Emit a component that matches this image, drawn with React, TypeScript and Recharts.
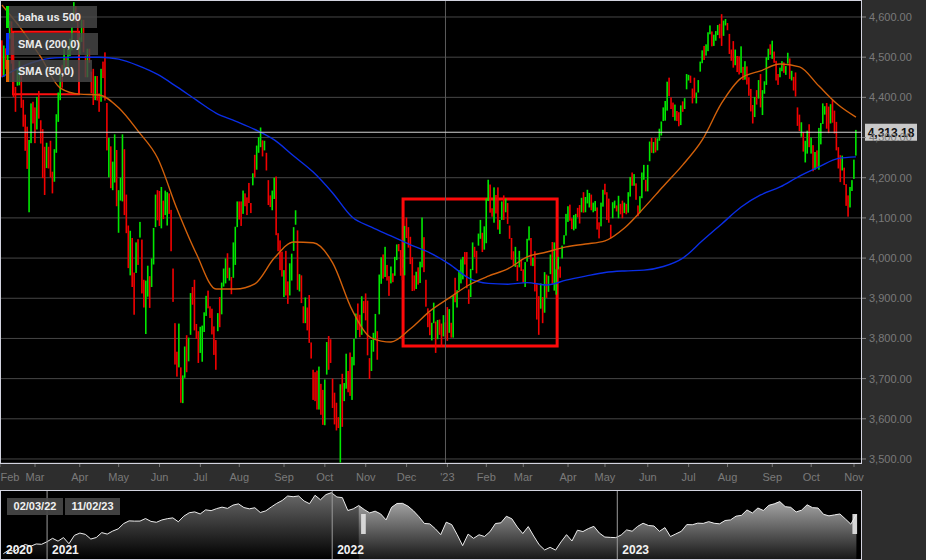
import React from 'react';
import {
  ComposedChart, Bar, Line, Area, XAxis, YAxis, CartesianGrid, ReferenceLine, ReferenceArea,
} from 'recharts';

const FONT = '"Liberation Sans", Arial, sans-serif';
const NARROW = '"Liberation Sans Narrow", "Arial Narrow", "Liberation Sans", sans-serif';

// ---- daily bars, 03 Feb 2022 .. 02 Nov 2023 (trading-day index) ----
const lows = [
  // Feb 22
  4450, 4451, 4470, 4465, 4546, 4484, 4401, 4364, 4429, 4430, 4374, 4327, 4267, 4222, 4114, 4286, 4335,
  // Mar 22
  4286, 4320, 4347, 4285, 4199, 4157, 4224, 4223, 4201, 4161, 4190, 4262, 4339, 4393, 4424, 4467, 4455, 4470, 4503, 4517, 4589, 4587, 4530,
  // Apr 22
  4507, 4538, 4512, 4450, 4450, 4486, 4410, 4381, 4393, 4392, 4364, 4389, 4448, 4392, 4268, 4201, 4174, 4169, 4188, 4129,
  // May 22
  4063, 4143, 4141, 4107, 4062, 3975, 3957, 3928, 3859, 3963, 3983, 4051, 3912, 3877, 3811, 3904, 3876, 3928, 3984, 4077, 4094,
  // Jun 22
  4080, 4074, 4097, 4107, 4081, 4110, 4017, 3891, 3735, 3705, 3728, 3640, 3639, 3702, 3716, 3743, 3809, 3884, 3820, 3799, 3739,
  // Jul 22
  3764, 3742, 3816, 3856, 3875, 3851, 3810, 3759, 3722, 3818, 3828, 3860, 3929, 3937, 3950, 3944, 3910, 3951, 3983, 4077,
  // Aug 22
  4096, 4080, 4110, 4129, 4107, 4137, 4112, 4181, 4201, 4220, 4262, 4276, 4253, 4268, 4218, 4132, 4127, 4119, 4147, 4057, 4017, 3970, 3954,
  // Sep 22
  3903, 3907, 3886, 3907, 3944, 4018, 4083, 3921, 3917, 3888, 3838, 3838, 3820, 3789, 3750, 3647, 3644, 3623, 3623, 3610, 3585,
  // Oct 22
  3584, 3710, 3722, 3739, 3627, 3586, 3571, 3577, 3491, 3580, 3644, 3675, 3666, 3657, 3647, 3733, 3800, 3821, 3803, 3809, 3863,
  // Nov 22
  3845, 3758, 3699, 3719, 3767, 3796, 3747, 3860, 3936, 3949, 3953, 3944, 3906, 3937, 3940, 3956, 3995, 4017, 3956, 3945, 3957,
  // Dec 22
  4050, 4026, 3985, 3918, 3919, 3923, 3934, 3938, 3977, 3965, 3879, 3828, 3808, 3795, 3838, 3764, 3798, 3809, 3780, 3805, 3800,
  // Jan 23
  3794, 3814, 3802, 3802, 3890, 3877, 3920, 3937, 3947, 3984, 3925, 3886, 3903, 3970, 4002, 3962, 4031, 4048, 4015, 4021,
  // Feb 23
  4037, 4142, 4113, 4103, 4088, 4111, 4071, 4060, 4095, 4095, 4114, 4085, 4048, 3996, 3983, 3978, 3943, 3977, 3968,
  // Mar 23
  3939, 3928, 3991, 4044, 3981, 3980, 3917, 3847, 3809, 3874, 3838, 3864, 3901, 3916, 3960, 3936, 3919, 3909, 3972, 3951, 3999, 4034, 4056,
  // Apr 23
  4090, 4093, 4072, 4069, 4073, 4102, 4086, 4114, 4113, 4114, 4136, 4126, 4119, 4114, 4117, 4071, 4049, 4079, 4128,
  // May 23
  4158, 4095, 4088, 4049, 4099, 4124, 4116, 4099, 4109, 4099, 4112, 4109, 4113, 4153, 4180, 4180, 4145, 4104, 4113, 4149, 4195, 4166,
  // Jun 23
  4166, 4241, 4262, 4261, 4263, 4268, 4292, 4305, 4341, 4342, 4367, 4403, 4371, 4351, 4342, 4341, 4328, 4331, 4364, 4371, 4420,
  // Jul 23
  4442, 4436, 4385, 4398, 4385, 4412, 4464, 4485, 4493, 4504, 4515, 4557, 4527, 4528, 4541, 4555, 4547, 4528, 4553, 4579,
  // Aug 23
  4567, 4508, 4491, 4474, 4480, 4463, 4457, 4461, 4443, 4444, 4432, 4404, 4365, 4335, 4351, 4382, 4397, 4375, 4356, 4409, 4431, 4493, 4506,
  // Sep 23
  4496, 4486, 4442, 4431, 4450, 4465, 4461, 4456, 4484, 4446, 4442, 4417, 4402, 4329, 4316, 4302, 4265, 4238, 4260, 4276,
  // Oct 23
  4260, 4216, 4220, 4226, 4220, 4283, 4334, 4357, 4322, 4311, 4335, 4337, 4310, 4268, 4223, 4189, 4218, 4182, 4130, 4103, 4126, 4167,
  // Nov 23
  4197, 4255,
];

const highs = [
  // Feb 22
  4542, 4529, 4522, 4531, 4590, 4589, 4527, 4426, 4472, 4490, 4456, 4394, 4357, 4327, 4294, 4385, 4389,
  // Mar 22
  4375, 4401, 4416, 4343, 4321, 4277, 4287, 4277, 4292, 4215, 4271, 4358, 4412, 4465, 4481, 4522, 4501, 4520, 4546, 4575, 4637, 4627, 4603,
  // Apr 22
  4549, 4593, 4593, 4504, 4521, 4521, 4464, 4471, 4453, 4453, 4410, 4471, 4489, 4512, 4386, 4299, 4278, 4240, 4308, 4269,
  // May 22
  4169, 4200, 4308, 4271, 4158, 4081, 4068, 4050, 3964, 4039, 4047, 4090, 4046, 3946, 3944, 3981, 3955, 3999, 4075, 4158, 4169,
  // Jun 22
  4167, 4177, 4143, 4168, 4164, 4161, 4120, 3974, 3838, 3767, 3837, 3728, 3708, 3780, 3808, 3802, 3913, 3928, 3946, 3836, 3818,
  // Jul 22
  3829, 3832, 3865, 3906, 3919, 3880, 3874, 3830, 3796, 3863, 3903, 3939, 3974, 3999, 4012, 3976, 3953, 4039, 4078, 4141,
  // Aug 22
  4141, 4141, 4168, 4161, 4151, 4187, 4137, 4211, 4257, 4280, 4301, 4325, 4293, 4292, 4262, 4194, 4156, 4168, 4200, 4203, 4062, 4044, 4016,
  // Sep 22
  3970, 4018, 3942, 3987, 4011, 4077, 4119, 4069, 3960, 3957, 3880, 3902, 3877, 3908, 3790, 3722, 3716, 3720, 3730, 3687, 3672,
  // Oct 22
  3698, 3791, 3806, 3798, 3700, 3665, 3640, 3604, 3686, 3712, 3689, 3762, 3719, 3765, 3754, 3799, 3862, 3887, 3859, 3905, 3893,
  // Nov 22
  3912, 3894, 3751, 3796, 3814, 3861, 3818, 3959, 4002, 4009, 4028, 3983, 3955, 3979, 3962, 4003, 4034, 4035, 4020, 3976, 4080,
  // Dec 22
  4101, 4077, 4053, 4002, 3957, 3966, 3977, 3991, 4101, 4052, 3946, 3875, 3864, 3839, 3889, 3842, 3846, 3847, 3837, 3858, 3840,
  // Jan 23
  3878, 3873, 3839, 3906, 3951, 3920, 3970, 3997, 4003, 4015, 4015, 3922, 3973, 4039, 4028, 4018, 4061, 4095, 4063, 4079,
  // Feb 23
  4148, 4195, 4183, 4124, 4176, 4157, 4176, 4095, 4141, 4156, 4148, 4137, 4081, 4050, 4017, 4028, 3983, 4018, 3997,
  // Mar 23
  3972, 3990, 4048, 4079, 4050, 4001, 4017, 3935, 3905, 3937, 3903, 3965, 3959, 3956, 4009, 4040, 4039, 3972, 4003, 3979, 4031, 4057, 4110,
  // Apr 23
  4129, 4133, 4099, 4107, 4110, 4125, 4132, 4150, 4164, 4152, 4170, 4162, 4158, 4138, 4142, 4126, 4089, 4138, 4170,
  // May 23
  4185, 4164, 4148, 4083, 4139, 4143, 4131, 4155, 4135, 4143, 4138, 4135, 4164, 4202, 4213, 4209, 4186, 4131, 4154, 4213, 4232, 4195,
  // Jun 23
  4232, 4290, 4299, 4289, 4299, 4298, 4322, 4340, 4375, 4391, 4439, 4449, 4400, 4387, 4382, 4366, 4363, 4380, 4390, 4398, 4458,
  // Jul 23
  4456, 4454, 4422, 4449, 4412, 4443, 4489, 4517, 4528, 4532, 4562, 4579, 4564, 4556, 4565, 4580, 4583, 4607, 4591, 4595,
  // Aug 23
  4585, 4558, 4519, 4540, 4519, 4503, 4502, 4527, 4476, 4490, 4477, 4450, 4421, 4381, 4401, 4418, 4443, 4458, 4418, 4440, 4500, 4521, 4532,
  // Sep 23
  4541, 4514, 4491, 4458, 4474, 4490, 4487, 4478, 4511, 4497, 4466, 4451, 4462, 4375, 4357, 4338, 4313, 4292, 4317, 4333,
  // Oct 23
  4300, 4281, 4264, 4268, 4324, 4336, 4385, 4378, 4386, 4377, 4383, 4394, 4367, 4339, 4276, 4256, 4255, 4225, 4184, 4156, 4177, 4194,
  // Nov 23
  4245, 4319,
];

const closes = [
  // Feb 22
  4477, 4500, 4484, 4521, 4587, 4504, 4419, 4401, 4471, 4475, 4380, 4349, 4304, 4226, 4288, 4385, 4374,
  // Mar 22
  4306, 4387, 4363, 4329, 4201, 4171, 4278, 4260, 4204, 4173, 4262, 4358, 4412, 4463, 4461, 4512, 4456, 4520, 4543, 4575, 4632, 4602, 4530,
  // Apr 22
  4546, 4583, 4525, 4481, 4500, 4488, 4413, 4397, 4446, 4392, 4391, 4462, 4460, 4394, 4272, 4296, 4175, 4183, 4288, 4132,
  // May 22
  4155, 4175, 4300, 4147, 4123, 3991, 4001, 3935, 3930, 4023, 4008, 4088, 3923, 3901, 3901, 3974, 3941, 3979, 4058, 4158, 4132,
  // Jun 22
  4101, 4177, 4109, 4121, 4161, 4116, 4018, 3901, 3750, 3735, 3790, 3667, 3675, 3765, 3760, 3796, 3912, 3900, 3821, 3819, 3785,
  // Jul 22
  3825, 3831, 3845, 3903, 3899, 3855, 3819, 3802, 3790, 3863, 3831, 3937, 3960, 3999, 3962, 3967, 3921, 4024, 4073, 4130,
  // Aug 22
  4119, 4091, 4155, 4152, 4145, 4140, 4122, 4210, 4208, 4280, 4297, 4305, 4274, 4284, 4228, 4138, 4128, 4141, 4199, 4058, 4031, 3986, 3955,
  // Sep 22
  3967, 3924, 3908, 3979, 4006, 4067, 4110, 3932, 3946, 3901, 3873, 3900, 3856, 3790, 3758, 3693, 3655, 3647, 3720, 3640, 3586,
  // Oct 22
  3678, 3791, 3783, 3745, 3640, 3612, 3589, 3577, 3669, 3583, 3677, 3720, 3695, 3666, 3752, 3797, 3859, 3831, 3807, 3901, 3872,
  // Nov 22
  3856, 3760, 3720, 3771, 3807, 3828, 3749, 3956, 3993, 3957, 3992, 3959, 3947, 3965, 3950, 4003, 4027, 4026, 3964, 3958, 4080,
  // Dec 22
  4076, 4072, 3999, 3941, 3934, 3963, 3934, 3991, 4019, 3996, 3896, 3852, 3818, 3821, 3879, 3822, 3845, 3829, 3783, 3849, 3840,
  // Jan 23
  3824, 3853, 3808, 3895, 3893, 3919, 3970, 3983, 3999, 3991, 3929, 3899, 3972, 4020, 4017, 4016, 4060, 4071, 4018, 4077,
  // Feb 23
  4119, 4180, 4136, 4111, 4164, 4118, 4082, 4090, 4137, 4136, 4148, 4090, 4079, 3997, 3991, 4012, 3970, 3982, 3970,
  // Mar 23
  3951, 3982, 4046, 4048, 3986, 3992, 3919, 3862, 3855, 3920, 3892, 3960, 3917, 3951, 4003, 3937, 3948, 3971, 3977, 3971, 4028, 4051, 4109,
  // Apr 23
  4124, 4101, 4091, 4105, 4109, 4108, 4092, 4146, 4138, 4151, 4154, 4155, 4130, 4133, 4137, 4072, 4056, 4135, 4169,
  // May 23
  4167, 4120, 4091, 4061, 4136, 4138, 4119, 4137, 4130, 4124, 4136, 4110, 4159, 4198, 4192, 4192, 4146, 4116, 4151, 4205, 4206, 4180,
  // Jun 23
  4221, 4282, 4273, 4284, 4268, 4294, 4299, 4338, 4369, 4373, 4426, 4410, 4389, 4366, 4381, 4348, 4328, 4378, 4377, 4396, 4450,
  // Jul 23
  4455, 4446, 4411, 4399, 4409, 4439, 4472, 4510, 4505, 4522, 4555, 4565, 4535, 4536, 4554, 4567, 4566, 4537, 4582, 4589,
  // Aug 23
  4577, 4513, 4502, 4478, 4518, 4499, 4467, 4468, 4464, 4490, 4437, 4404, 4370, 4369, 4400, 4387, 4436, 4376, 4406, 4433, 4497, 4514, 4508,
  // Sep 23
  4516, 4497, 4465, 4451, 4457, 4487, 4462, 4467, 4505, 4450, 4454, 4444, 4402, 4330, 4320, 4337, 4274, 4275, 4300, 4288,
  // Oct 23
  4288, 4229, 4263, 4258, 4308, 4336, 4358, 4377, 4350, 4327, 4374, 4373, 4314, 4278, 4224, 4217, 4248, 4186, 4137, 4117, 4167, 4194,
  // Nov 23
  4238, 4318,
];

const priorClose = 4589; // close before the first bar
const lastPrice = 4313.18;

// moving averages at these bar indices
const smaIdx = [0, 10, 20, 30, 40, 50, 60, 70, 80, 90, 100, 110, 120, 130, 140, 150, 160, 170, 180, 190, 200, 210, 220,
  230, 240, 250, 260, 270, 280, 290, 300, 310, 320, 330, 340, 350, 360, 370, 380, 390, 400, 410, 420, 430, 439];
const sma200 = [4451, 4476, 4493, 4499, 4500, 4500, 4495, 4479, 4457, 4426, 4393, 4361, 4341, 4320, 4294, 4254, 4214,
  4162, 4102, 4077, 4055, 4033, 4013, 3985, 3950, 3937, 3935, 3939, 3933, 3945, 3955, 3964, 3968, 3970, 3979, 4000,
  4043, 4085, 4127, 4157, 4177, 4204, 4227, 4248, 4252];
const sma50 = [4630, 4570, 4500, 4423, 4408, 4406, 4374, 4316, 4249, 4122, 4010, 3923, 3923, 3936, 4000, 4040, 4038,
  3988, 3871, 3801, 3791, 3824, 3868, 3901, 3933, 3955, 3973, 4003, 4015, 4028, 4035, 4043, 4075, 4125, 4179, 4232,
  4294, 4386, 4448, 4466, 4483, 4476, 4428, 4381, 4351];

const monthTicks = [-1, 17, 40, 60, 81, 102, 122, 145, 166, 187, 208, 229, 249, 268, 291, 310, 332, 353, 373, 396, 416, 438];
const monthLabels = ['Feb', 'Mar', 'Apr', 'May', 'Jun', 'Jul', 'Aug', 'Sep', 'Oct', 'Nov', 'Dec', "'23",
  'Feb', 'Mar', 'Apr', 'May', 'Jun', 'Jul', 'Aug', 'Sep', 'Oct', 'Nov'];
const priceTicks = [3500, 3600, 3700, 3800, 3900, 4000, 4100, 4200, 4300, 4400, 4500, 4600];

// annotation boxes (bar index / price)
const boxMain = { x1: 206.2, x2: 285.4, y1: 3781, y2: 4147 };
const boxSmall = { x1: 5.7, x2: 39.6, y1: 4408, y2: 4563 };
const yearLineIdx = 228;

// ---- navigator: weekly closes from 06 Nov 2020 (day 310 counted from 01 Jan 2020) ----
const navStart = 310;
const navValues = [
  3509, 3585, 3558, 3638, 3699, 3663, 3709, 3703, 3756,
  3825, 3768, 3841, 3714, 3887, 3934, 3907, 3811, 3842, 3943, 3913, 3975, 4020, 4129, 4185, 4180, 4181, 4233, 4174,
  4156, 4204, 4230, 4247, 4166, 4281, 4352, 4370, 4327, 4412, 4395, 4437, 4468, 4442, 4509, 4535, 4459, 4433, 4455,
  4357, 4391, 4471, 4545, 4605, 4697, 4682, 4698, 4595, 4538, 4712, 4620, 4726, 4766,
  4677, 4663, 4398, 4432, 4500, 4419, 4349, 4385, 4329, 4204, 4463, 4543, 4546, 4488, 4392, 4272, 4132, 4123, 4023,
  3901, 4158, 4109, 3901, 3675, 3912, 3825, 3899, 3863, 3962, 4130, 4145, 4280, 4228, 4058, 3924, 4067, 3873, 3693,
  3586, 3640, 3583, 3752, 3901, 3771, 3993, 3965, 4026, 4072, 3934, 3852, 3845, 3840,
  3895, 3999, 3972, 4071, 4136, 4090, 4079, 3970, 4046, 3862, 3917, 3971, 4109, 4105, 4138, 4133, 4169, 4136, 4124,
  4192, 4205, 4282, 4299, 4410, 4348, 4450, 4399, 4505, 4536, 4582, 4478, 4464, 4369, 4406, 4516, 4457, 4450, 4320,
  4288, 4308, 4327, 4224, 4117, 4318,
];
const navDomain = [307, 1408];
const selStartDay = 764; // 03 Feb 2022
const selEndDay = 1401; // 02 Nov 2023
const yearDays = [307, 366, 731, 1096];
const yearLabels = ['2020', '2021', '2022', '2023'];

const rows: any[] = closes.map((c, i) => ({
  i,
  hl: [lows[i], highs[i]],
  up: c >= (i === 0 ? priorClose : closes[i - 1]),
}));
const sma200Rows = smaIdx.map((i, k) => ({ i, s200: sma200[k] }));
const sma50Rows = smaIdx.map((i, k) => ({ i, s50: sma50[k] }));

const navRows = navValues.map((v, k) => {
  const d = navStart + 7 * k;
  return { d, v, sel: d >= selStartDay ? v : null };
});

const fmtPrice = (v: number) =>
  v.toLocaleString('en-US', { minimumFractionDigits: 2, maximumFractionDigits: 2 });

const Candle = (props: any) => {
  const { x, y, width, height, payload } = props;
  if (x == null || y == null) return null;
  const cx = x + (width || 0) / 2;
  const top = Math.min(y, y + height);
  const h = Math.max(Math.abs(height), 1);
  return <rect x={cx - 0.8} y={top} width={1.6} height={h} fill={payload.up ? '#00e800' : '#f20000'} />;
};

const XTick = (props: any) => {
  const { x, y, payload } = props;
  const k = monthTicks.indexOf(payload.value);
  return (
    <text x={Math.max(x, 10)} y={y} dy="0.71em" textAnchor="middle" fill="#7a7a7a" fontSize={11} fontFamily={FONT}>
      {k >= 0 ? monthLabels[k] : ''}
    </text>
  );
};

const PriceTag = (props: any) => {
  const vb = props.viewBox || {};
  const yy = vb.y ?? 0;
  const xx = (vb.x ?? 0) + (vb.width ?? 0);
  return (
    <g>
      <rect x={xx + 4} y={yy - 8.5} width={52} height={17} fill="#c9c9c9" />
      <text x={xx + 30} y={yy} dy="0.36em" textAnchor="middle" fontSize={12} fontWeight="bold" fill="#111" fontFamily={FONT}>
        {fmtPrice(lastPrice)}
      </text>
    </g>
  );
};

const YearTag = (text: string) => (props: any) => {
  const vb = props.viewBox || {};
  return (
    <text x={(vb.x ?? 0) + 5} y={(vb.y ?? 0) + (vb.height ?? 0) - 5} fill="#f2f2f2" fontSize={12} fontWeight="bold" fontFamily={NARROW}>
      {text}
    </text>
  );
};

const legendItems = [
  { name: 'baha us 500', color: '#00e800', top: 6, width: 91 },
  { name: 'SMA (200,0)', color: '#0030ff', top: 33, width: 92 },
  { name: 'SMA (50,0)', color: '#e06400', top: 60, width: 86 },
];

export default function App() {
  return (
    <div style={{ position: 'fixed', left: 0, top: 0, width: 926, height: 560, background: '#2d2d2d', overflow: 'hidden', fontFamily: FONT }}>
      <div style={{ position: 'absolute', left: 0, top: 0 }}>
        <ComposedChart width={926} height={490} data={rows} margin={{ top: 0, right: 0, bottom: 0, left: 0 }}>
          <CartesianGrid vertical={false} stroke="#474747" fill="#000" fillOpacity={1} />
          <XAxis
            type="number" dataKey="i" domain={[-1, 441.6]} allowDataOverflow ticks={monthTicks} interval={0}
            tick={XTick} tickLine={{ stroke: '#777' }} tickSize={4} tickMargin={6} axisLine={false} height={27}
          />
          <YAxis
            orientation="right" type="number" domain={[3490, 4642.3]} allowDataOverflow ticks={priceTicks} interval={0}
            tickFormatter={fmtPrice} tick={{ fill: '#7a7a7a', fontSize: 11, fontFamily: FONT }} tickLine={{ stroke: '#888' }}
            tickSize={5} tickMargin={3} axisLine={false} width={65}
          />
          <ReferenceLine x={yearLineIdx} stroke="#5c5c5c" strokeWidth={1} />
          <Bar dataKey="hl" shape={Candle} barSize={2} isAnimationActive={false} />
          <Line data={sma200Rows} dataKey="s200" type="monotone" stroke="#0a2ee6" strokeWidth={1.4} dot={false} activeDot={false} isAnimationActive={false} />
          <Line data={sma50Rows} dataKey="s50" type="monotone" stroke="#d2600a" strokeWidth={1.4} dot={false} activeDot={false} isAnimationActive={false} />
          <ReferenceArea x1={boxSmall.x1} x2={boxSmall.x2} y1={boxSmall.y1} y2={boxSmall.y2} fill="none" fillOpacity={0} stroke="#ff1010" strokeWidth={2} />
          <ReferenceArea x1={boxMain.x1} x2={boxMain.x2} y1={boxMain.y1} y2={boxMain.y2} fill="none" fillOpacity={0} stroke="#ff0a0a" strokeWidth={3} />
          <ReferenceLine y={lastPrice} stroke="#d6d6d6" strokeWidth={1} label={PriceTag} />
        </ComposedChart>
      </div>

      {/* plot frame */}
      <div style={{ position: 'absolute', left: 0, top: 0, width: 862, height: 464, border: '1px solid #d2d3df', boxSizing: 'border-box', pointerEvents: 'none' }} />

      {/* legend */}
      {legendItems.map((it) => (
        <div key={it.name} style={{ position: 'absolute', left: 6, top: it.top, width: it.width, height: 22, background: 'rgba(72,72,72,0.82)' }}>
          <div style={{ position: 'absolute', left: 0, top: 0, width: 3, height: 22, background: it.color }} />
          <div style={{ position: 'absolute', left: 12, top: 0, lineHeight: '22px', fontSize: 11, fontWeight: 'bold', color: '#ececec', whiteSpace: 'nowrap' }}>
            {it.name}
          </div>
        </div>
      ))}

      {/* navigator */}
      <div style={{ position: 'absolute', left: 0, top: 490, width: 862, height: 70, border: '1px solid #d2d3df', boxSizing: 'border-box', background: '#000' }}>
        <ComposedChart width={860} height={68} data={navRows} margin={{ top: 0, right: 0, bottom: 0, left: 0 }}>
          <defs>
            <linearGradient id="navDark" x1="0" y1="0" x2="0" y2="1">
              <stop offset="0%" stopColor="#6a6a6a" />
              <stop offset="100%" stopColor="#000" />
            </linearGradient>
            <linearGradient id="navLight" x1="0" y1="0" x2="0" y2="1">
              <stop offset="0%" stopColor="#a4a4a4" />
              <stop offset="100%" stopColor="#181818" />
            </linearGradient>
          </defs>
          <XAxis type="number" dataKey="d" domain={navDomain} allowDataOverflow hide />
          <YAxis type="number" domain={[3400, 4800]} allowDataOverflow hide />
          <Area dataKey="v" type="linear" stroke="none" fill="url(#navDark)" fillOpacity={1} isAnimationActive={false} />
          <Area dataKey="sel" type="linear" stroke="none" fill="url(#navLight)" fillOpacity={1} isAnimationActive={false} />
          <Line dataKey="v" type="linear" stroke="#ececec" strokeWidth={1} dot={false} activeDot={false} isAnimationActive={false} />
          {yearDays.map((d, k) => (
            <ReferenceLine key={d} x={d} stroke={k === 0 ? 'none' : '#9c9c9c'} strokeWidth={1} label={YearTag(yearLabels[k])} />
          ))}
          <ReferenceArea x1={selStartDay + 4} x2={selStartDay + 10} y1={3915} y2={4327} fill="#dcdcdc" fillOpacity={0.95} stroke="none" />
          <ReferenceArea x1={selEndDay - 4} x2={selEndDay + 2} y1={3915} y2={4327} fill="#dcdcdc" fillOpacity={0.95} stroke="none" />
        </ComposedChart>
      </div>
      <div style={{ position: 'absolute', left: 7, top: 498, width: 56, height: 17, background: 'rgba(70,70,70,0.92)', color: '#f0f0f0', fontSize: 11, fontWeight: 'bold', lineHeight: '17px', textAlign: 'center' }}>02/03/22</div>
      <div style={{ position: 'absolute', left: 65, top: 498, width: 55, height: 17, background: 'rgba(70,70,70,0.92)', color: '#f0f0f0', fontSize: 11, fontWeight: 'bold', lineHeight: '17px', textAlign: 'center' }}>11/02/23</div>
    </div>
  );
}
